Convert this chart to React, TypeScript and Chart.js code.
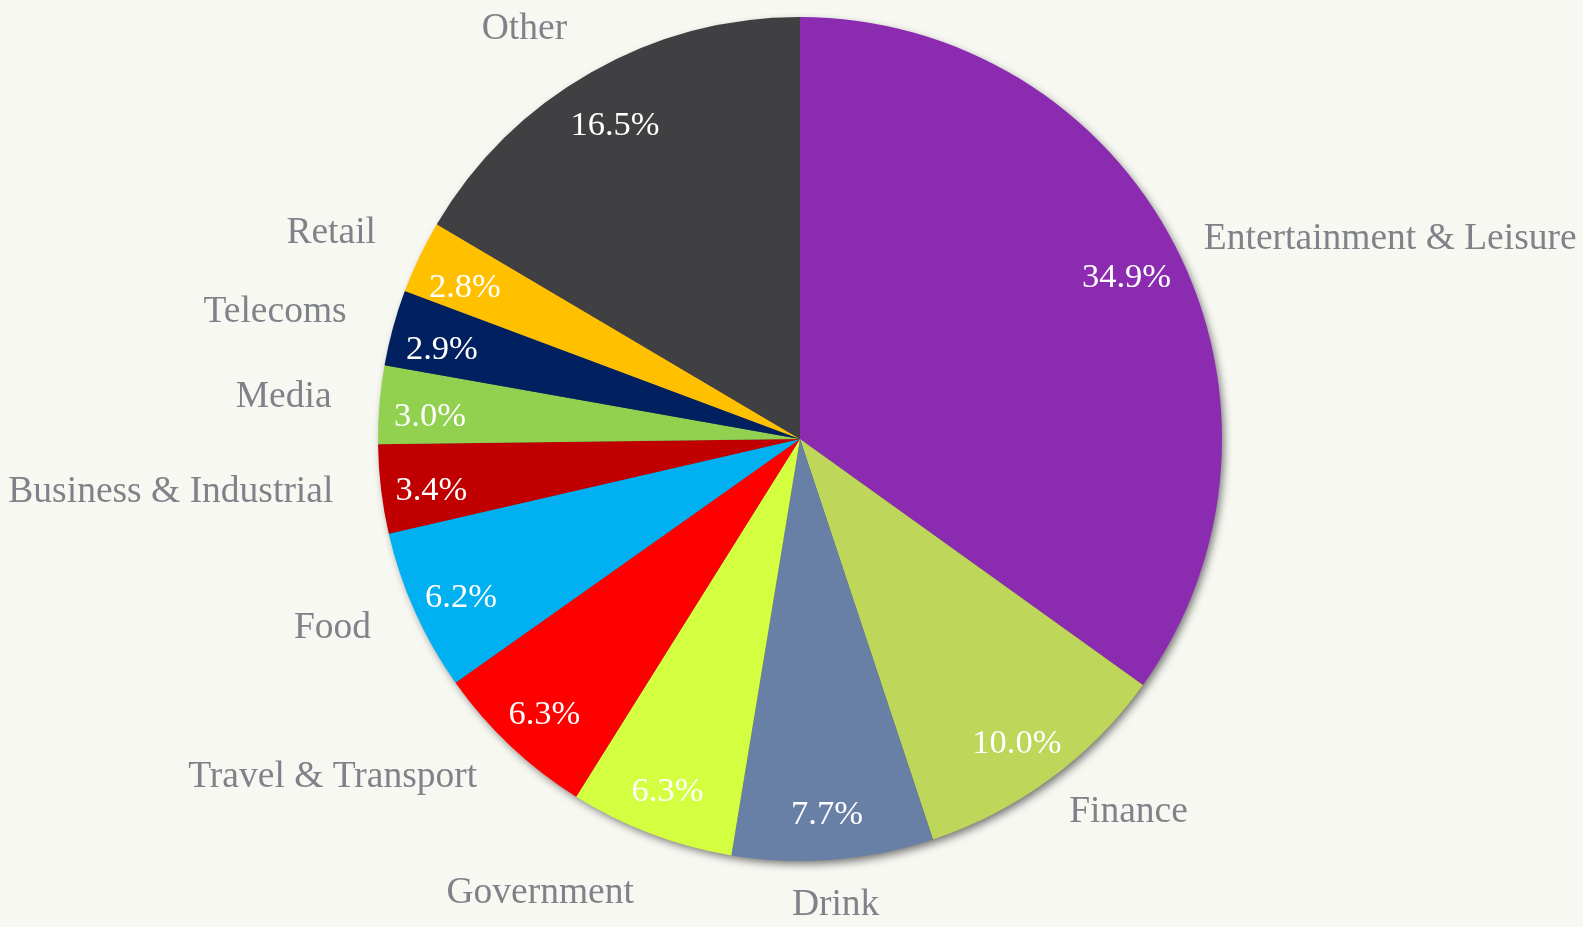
import React, { useEffect, useRef } from "react";
import { Chart, registerables } from "chart.js";

Chart.register(...registerables);

const categories = [
  "Entertainment & Leisure",
  "Finance",
  "Drink",
  "Government",
  "Travel & Transport",
  "Food",
  "Business & Industrial",
  "Media",
  "Telecoms",
  "Retail",
  "Other",
];
const shares = [34.9, 10.0, 7.7, 6.3, 6.3, 6.2, 3.4, 3.0, 2.9, 2.8, 16.5];
const sliceColors = [
  "#8B2BB0",
  "#BED65A",
  "#6880A6",
  "#D4FF40",
  "#FF0000",
  "#00B0F0",
  "#C00000",
  "#92D050",
  "#002060",
  "#FFC000",
  "#404043",
];

const BG = "#f8f8f3";
const LABEL_FONT = "Liberation Serif";

const shadowPlugin = {
  id: "pieShadow",
  beforeDatasetsDraw(chart: any) {
    const meta = chart.getDatasetMeta(0);
    const arc = meta.data[0];
    if (!arc) return;
    const { x, y, outerRadius } = arc.getProps(["x", "y", "outerRadius"], true);
    const ctx = chart.ctx;
    ctx.save();
    ctx.shadowColor = "rgba(0,0,0,0.55)";
    ctx.shadowBlur = 9;
    ctx.shadowOffsetX = 3;
    ctx.shadowOffsetY = 4;
    ctx.beginPath();
    ctx.arc(x, y, outerRadius - 1, 0, Math.PI * 2);
    ctx.fillStyle = "#555";
    ctx.fill();
    ctx.restore();
  },
};

const labelPlugin = {
  id: "pieLabels",
  afterDatasetsDraw(chart: any) {
    const ctx = chart.ctx;
    const meta = chart.getDatasetMeta(0);
    const data = chart.data.datasets[0].data as number[];
    meta.data.forEach((arc: any, i: number) => {
      const { x, y, startAngle, endAngle, outerRadius } = arc.getProps(
        ["x", "y", "startAngle", "endAngle", "outerRadius"],
        true
      );
      const a = (startAngle + endAngle) / 2;
      const ux = Math.cos(a);
      const uy = Math.sin(a);
      // percentage inside
      ctx.save();
      ctx.font = `34.5px "${LABEL_FONT}"`;
      ctx.fillStyle = "#ffffff";
      ctx.textAlign = "center";
      ctx.textBaseline = "middle";
      const pr = outerRadius * 0.875;
      ctx.fillText(data[i].toFixed(1) + "%", x + ux * pr - 2, y + uy * pr + 8);
      ctx.restore();

      // category outside
      ctx.save();
      ctx.font = `37.5px "${LABEL_FONT}"`;
      ctx.fillStyle = "#7f8288";
      ctx.textBaseline = "middle";
      const off = ux < 0 ? 48 : 32;
      const px = x + ux * (outerRadius + off);
      const py = y + uy * (outerRadius + off);
      let ty = py;
      if (ux > 0.3) {
        ctx.textAlign = "left";
        ty = py + 8;
      } else if (ux < -0.3) {
        ctx.textAlign = "right";
        ty = py - 3;
      } else ctx.textAlign = "center";
      if (uy > 0.85) ty = py + 14;
      else if (uy < -0.85) ty = py - 2;
      ctx.fillText(chart.data.labels[i], px, ty);
      ctx.restore();
    });
  },
};

export default function App() {
  const ref = useRef<HTMLCanvasElement | null>(null);
  useEffect(() => {
    if (!ref.current) return;
    const chart = new Chart(ref.current, {
      type: "pie",
      data: {
        labels: categories,
        datasets: [
          {
            data: shares,
            backgroundColor: sliceColors,
            borderWidth: 0,
          },
        ],
      },
      options: {
        responsive: false,
        animation: false,
        layout: { padding: { top: 17, bottom: 66, left: 300, right: 283 } },
        plugins: {
          legend: { display: false },
          tooltip: { enabled: false },
        },
      },
      plugins: [shadowPlugin, labelPlugin],
    });
    return () => chart.destroy();
  }, []);
  return (
    <div
      style={{
        position: "fixed",
        left: 0,
        top: 0,
        width: 1583,
        height: 927,
        background: BG,
      }}
    >
      <canvas ref={ref} width={1583} height={927} />
    </div>
  );
}
